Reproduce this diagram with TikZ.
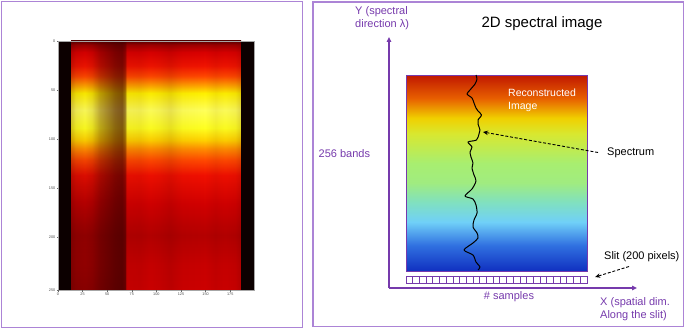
\documentclass[tikz,border=0pt]{standalone}
\usepackage{fontspec}
\setmainfont{Liberation Sans}
\usetikzlibrary{arrows.meta,fadings}
\definecolor{ppl}{RGB}{118,58,172}
\definecolor{pnl}{RGB}{172,132,214}
\definecolor{hblack}{RGB}{12,0,0}
\definecolor{hdark}{RGB}{60,0,0}
% heat map colours (bottom to top)
\definecolor{ha}{RGB}{204,0,0}
\definecolor{hb}{RGB}{200,0,0}
\definecolor{hc}{RGB}{180,0,0}
\definecolor{hd}{RGB}{208,0,0}
\definecolor{he}{RGB}{240,16,0}
\definecolor{hf}{RGB}{255,72,0}
\definecolor{hg}{RGB}{255,144,0}
\definecolor{hh}{RGB}{255,208,0}
\definecolor{hi}{RGB}{255,255,32}
\definecolor{hj}{RGB}{255,255,90}
\definecolor{hk}{RGB}{255,240,0}
\definecolor{hl}{RGB}{255,160,0}
\definecolor{hm}{RGB}{255,72,0}
\definecolor{hn}{RGB}{240,20,0}
\definecolor{ho}{RGB}{216,0,0}
\definecolor{hq}{RGB}{160,0,0}
\definecolor{hp}{RGB}{96,0,0}
% rainbow colours
\definecolor{r0}{RGB}{16,48,192}
\definecolor{r13}{RGB}{48,112,224}
\definecolor{r25}{RGB}{112,208,248}
\definecolor{r35}{RGB}{128,224,192}
\definecolor{r45}{RGB}{160,236,128}
\definecolor{r55}{RGB}{168,238,112}
\definecolor{r70}{RGB}{216,232,48}
\definecolor{r78}{RGB}{240,208,0}
\definecolor{r88}{RGB}{232,96,0}
\definecolor{r100}{RGB}{192,24,0}
% TikZ maps the middle 50bp (25bp..75bp) of a shading onto the path
\pgfdeclareverticalshading{heat}{100bp}{color(0bp)=(ha); color(25bp)=(ha); color(30bp)=(hb); color(36.05bp)=(hc); color(42.05bp)=(hd); color(48.1bp)=(he); color(51.1bp)=(hf); color(53.5bp)=(hg); color(55.1bp)=(hh); color(57.55bp)=(hi); color(61.15bp)=(hj); color(64.55bp)=(hk); color(66.15bp)=(hl); color(67.95bp)=(hm); color(70bp)=(hn); color(72.8bp)=(ho); color(74.2bp)=(hq); color(75bp)=(hp); color(100bp)=(hp)}
\pgfdeclareverticalshading{rainbow}{100bp}{color(0bp)=(r0); color(25bp)=(r0); color(31.5bp)=(r13); color(37.5bp)=(r25); color(42.5bp)=(r35); color(47.5bp)=(r45); color(52.5bp)=(r55); color(60bp)=(r70); color(64bp)=(r78); color(69bp)=(r88); color(75bp)=(r100); color(100bp)=(r100)}
\pgfdeclarehorizontalshading{colshade}{100bp}{color(0bp)=(white!25!black); color(25bp)=(white!25!black); color(26.45bp)=(white!10!black); color(29.1bp)=(white!4!black); color(31.2bp)=(white!12!black); color(33.55bp)=(white!35!black); color(35.9bp)=(white!48!black); color(37.95bp)=(white!60!black); color(40bp)=(white!66!black); color(40.9bp)=(white!50!black); color(41.45bp)=(white!6!black); color(45.3bp)=(white!8!black); color(48.25bp)=(white!2!black); color(51.2bp)=(white!6!black); color(54.1bp)=(white!12!black); color(57.65bp)=(white!3!black); color(64.4bp)=(black); color(67.35bp)=(white!6!black); color(70.3bp)=(white!2!black); color(73.25bp)=(white!6!black); color(75bp)=(white!18!black); color(100bp)=(white!18!black)}
\pgfdeclarefading{colfade}{\pgfuseshading{colshade}}
\pgfdeclareverticalshading{vshade}{100bp}{color(0bp)=(white); color(25bp)=(white); color(75bp)=(black); color(100bp)=(black)}
\pgfdeclarefading{bottomfade}{\pgfuseshading{vshade}}
\tikzset{
  panel/.style={draw=pnl, line width=1.1pt},
  tick/.style={font=\fontsize{3.8}{4}\selectfont, text=black!70, inner sep=0.5pt},
  ptext/.style={text=ppl, font=\fontsize{11}{13}\selectfont, inner sep=0pt},
  btext/.style={text=black, font=\fontsize{11}{13}\selectfont, inner sep=0pt},
  axisline/.style={draw=ppl, line width=1.3pt, -{Triangle[length=5pt,width=4.5pt]}},
  dasharrow/.style={draw=black, line width=0.9pt, dash pattern=on 3pt off 1.8pt, -{Stealth[length=5pt,width=4.5pt]}},
  slitbox/.style={draw=ppl, line width=0.8pt, fill=white}
}
\begin{document}
\begin{tikzpicture}[x=1pt,y=-1pt]
\useasboundingbox (0,0) rectangle (685,329);
% panels
\draw[panel] (1.5,1.5) rectangle (302.5,327.5);
\draw[panel] (313,2) rectangle (683.5,326.5);
% heat map
\shade[shading=heat] (71,41) rectangle (241,290);
\fill[hdark, path fading=colfade, fit fading=true] (71,41) rectangle (241,290);
\fill[hdark, path fading=bottomfade, fit fading=true, fill opacity=0.45] (71,150) rectangle (126,290);
\fill[hblack] (58,41) rectangle (71,290);
\fill[hblack] (241,41) rectangle (254,290);
\node[draw=black!35, line width=0.3pt, minimum width=196pt, minimum height=249pt, inner sep=0pt] (heat) at (156,165.5) {};
\foreach \v/\y in {0/41,50/90,100/139,150/188,200/237,250/290}{
  \draw[black!60, line width=0.3pt] (58,\y) -- (56.5,\y);
  \node[tick, anchor=east] (ly\v) at (56,\y) {\v};
}
\foreach \v/\x in {0/58,25/82.6,50/107.2,75/131.8,100/156.4,125/181,150/205.6,175/230.2}{
  \draw[black!60, line width=0.3pt] (\x,290) -- (\x,291.5);
  \node[tick, anchor=north] (lx\v) at (\x,291.8) {\v};
}
% right panel
\node[font=\fontsize{15}{18}\selectfont, inner sep=0pt] (title) at (542,24) {2D spectral image};
\node[ptext, align=left, anchor=west] (ylab) at (355,18.5) {Y (spectral\\direction λ)};
\coordinate (O) at (389,288);
\coordinate (ytip) at (389,37);
\coordinate (xtip) at (637,288);
\draw[axisline] (O) -- (ytip);
\draw[axisline] (O) -- (xtip);
\node[ptext, anchor=west] (bands) at (318.5,154) {256 bands};
\node[ptext] (samples) at (509,296.5) {\# samples};
\node[ptext, align=left, anchor=west] (xlab) at (600,309.5) {X (spatial dim.\\Along the slit)};
% reconstructed image
\node[shade, shading=rainbow, draw=ppl, line width=0.9pt, minimum width=181pt, minimum height=196pt, inner sep=0pt] (img) at (496.5,173) {};
\node[text=white, font=\fontsize{10.5}{13}\selectfont, align=left, anchor=north west, inner sep=0pt] (rec) at (508,89) {Reconstructed\\Image};
\draw[black, line width=1pt, line join=round] plot[smooth, tension=0.45] coordinates {(476,75) (477,79) (475,84) (470,90) (467,94) (472,98) (474,103) (476,108) (478,111) (481.5,115) (478,120) (478,124) (480,130) (479,134) (476.5,140) (468,142) (472,147) (470,152) (471,157) (473,163) (472,168) (474,175) (476,181) (472,189) (465,196) (473,199) (476,205) (477,213) (474,220) (473,227) (477,233) (478,238) (473,243) (464,250) (473,255) (476,262) (480,267) (478,270)};
% spectrum label
\node[btext, anchor=west] (spec) at (607,152.5) {Spectrum};
\coordinate (spectip) at (483,132);
\draw[dasharrow] ([xshift=-9pt]spec.west) -- (spectip);
% slit
\node[minimum width=181pt, minimum height=7pt, inner sep=0pt] (slit) at (496.5,279.5) {};
\foreach \i in {0,...,26}{
  \draw[slitbox] (406+\i*6.7037,276) rectangle ++(6.7037,7);
}
\node[btext, anchor=west] (slitlab) at (604,257) {Slit (200 pixels)};
\coordinate (slitfrom) at (629,266.5);
\draw[dasharrow] (slitfrom) -- ([xshift=8pt,yshift=2.5pt]slit.east);
\end{tikzpicture}
\end{document}
